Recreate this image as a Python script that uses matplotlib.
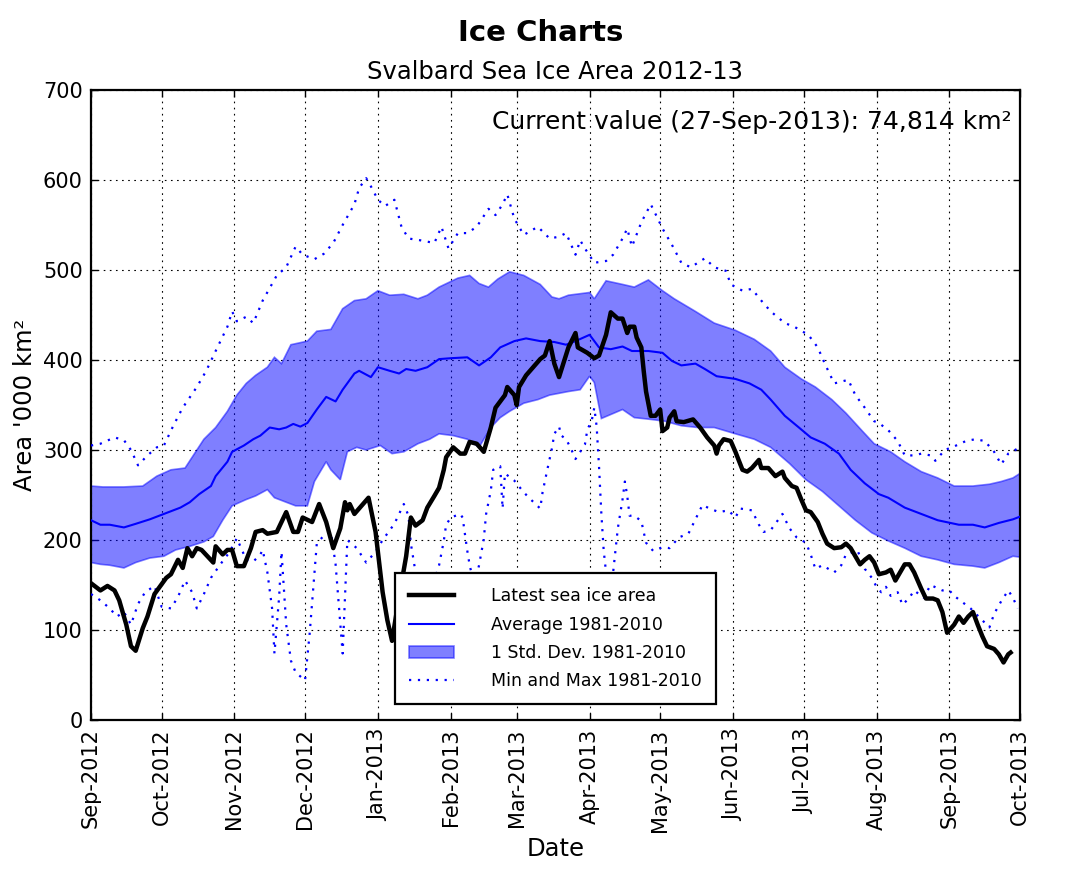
#!/usr/bin/env python3
"""
Svalbard sea ice area 2012-13 vs 1981-2010 climatology.
"""

import numpy as np
import matplotlib
matplotlib.use("Agg")
import matplotlib.pyplot as plt
import matplotlib.dates as mdates
from matplotlib.lines import Line2D
from matplotlib.patches import Patch

START = np.datetime64("2012-09-01")

# values in '000 km2, positions as days after START
latest_days = [0, 4, 7, 10, 12, 15, 17, 19, 22, 24, 27, 32, 34, 37, 39, 41, 43, 45, 47, 52,
               53, 56, 58, 60, 62, 65, 68, 70, 73, 75, 79, 83, 86, 88, 90, 94, 97, 100, 103, 106,
               108, 109, 110, 112, 118, 121, 124, 126, 128, 131, 134, 136, 138, 141, 143, 146, 148, 150, 151, 154,
               157, 159, 161, 164, 167, 170, 172, 174, 176, 177, 180, 181, 182, 185, 188, 191, 193, 195, 197, 199,
               203, 206, 207, 211, 214, 216, 219, 221, 224, 226, 228, 229, 231, 232, 234, 235, 236, 238, 240, 242,
               243, 245, 246, 248, 249, 252, 256, 259, 262, 265, 266, 267, 269, 272, 274, 277, 279, 281, 284, 285,
               288, 290, 291, 294, 295, 298, 300, 302, 304, 306, 309, 311, 313, 316, 319, 321, 323, 325, 327, 329,
               331, 333, 335, 338, 340, 342, 344, 346, 348, 350, 353, 355, 358, 360, 362, 364, 367, 369, 371, 373,
               375, 377, 379, 381, 384, 386, 388, 390, 391]
latest_vals = [152, 144, 149, 144, 133, 106, 82, 77, 102, 115, 140, 158, 162, 178, 169, 191, 182, 191, 189, 175,
               193, 184, 189, 189, 171, 171, 191, 209, 211, 207, 209, 231, 209, 209, 225, 220, 240, 220, 191, 213,
               242, 233, 240, 229, 247, 209, 142, 111, 88, 137, 182, 225, 216, 222, 236, 249, 258, 278, 292, 303,
               296, 296, 309, 307, 298, 325, 347, 354, 361, 370, 361, 350, 370, 383, 392, 401, 405, 421, 396, 381,
               414, 430, 414, 408, 402, 405, 428, 453, 446, 446, 430, 437, 437, 425, 414, 388, 365, 338, 338, 345,
               321, 325, 336, 343, 332, 331, 334, 325, 314, 305, 296, 305, 312, 310, 298, 278, 276, 280, 289, 280,
               280, 274, 271, 276, 269, 260, 258, 245, 233, 231, 220, 207, 196, 191, 192, 196, 191, 182, 173, 178,
               182, 175, 162, 164, 167, 155, 164, 173, 173, 164, 146, 135, 135, 133, 120, 97, 106, 115, 108, 115,
               120, 106, 93, 82, 79, 73, 64, 73, 75]

avg_days = [0, 4, 8, 14, 19, 25, 31, 38, 42, 46, 51, 53, 58, 60, 65, 69, 72, 76, 80, 83,
            86, 89, 92, 96, 100, 104, 107, 112, 114, 119, 122, 127, 131, 134, 138, 143, 148, 153, 160, 165,
            170, 174, 180, 185, 191, 197, 202, 206, 212, 216, 221, 226, 230, 237, 243, 247, 251, 257, 261, 266,
            274, 280, 285, 289, 295, 301, 306, 312, 318, 323, 329, 335, 339, 346, 353, 360, 369, 375, 380, 386,
            392, 395]
avg_vals = [222, 217, 217, 214, 218, 223, 229, 236, 242, 251, 260, 271, 287, 298, 305, 312, 316, 325, 323, 325,
            329, 326, 330, 345, 359, 354, 367, 385, 388, 381, 392, 388, 385, 390, 388, 392, 401, 402, 403, 394,
            403, 414, 421, 424, 421, 420, 417, 421, 428, 414, 412, 415, 410, 410, 408, 399, 394, 396, 390, 382,
            379, 374, 367, 356, 338, 325, 314, 307, 296, 278, 263, 251, 247, 236, 229, 222, 217, 217, 214, 219,
            223, 226]

upper_days = [0, 5, 14, 22, 28, 34, 40, 44, 48, 53, 58, 62, 66, 70, 75, 78, 81, 85, 92, 96,
              102, 107, 112, 117, 122, 127, 133, 139, 143, 148, 156, 161, 165, 169, 173, 178, 184, 191, 196, 199,
              203, 212, 214, 219, 226, 231, 237, 243, 248, 257, 265, 274, 282, 289, 295, 302, 308, 315, 321, 328,
              333, 340, 346, 353, 360, 367, 375, 382, 387, 392, 395]
upper_vals = [260, 259, 259, 260, 271, 278, 280, 296, 312, 325, 343, 361, 374, 383, 392, 403, 396, 417, 421, 432,
              434, 457, 466, 468, 477, 472, 473, 468, 472, 481, 491, 494, 485, 481, 490, 498, 494, 484, 470, 468,
              472, 475, 468, 488, 484, 481, 489, 477, 468, 454, 441, 433, 423, 410, 392, 379, 370, 356, 341, 321,
              307, 298, 287, 276, 269, 260, 260, 262, 265, 269, 274]

lower_days = [0, 4, 8, 14, 19, 25, 31, 36, 42, 48, 52, 56, 60, 66, 70, 75, 78, 83, 87, 92,
              95, 100, 102, 106, 109, 113, 117, 123, 128, 133, 139, 144, 148, 154, 160, 165, 170, 174, 178, 184,
              190, 195, 199, 203, 208, 212, 214, 217, 226, 231, 238, 244, 251, 258, 265, 274, 282, 289, 297, 304,
              311, 318, 325, 332, 339, 346, 353, 360, 367, 375, 380, 386, 392, 395]
lower_vals = [175, 173, 172, 169, 175, 180, 182, 189, 193, 198, 204, 222, 238, 245, 249, 256, 247, 242, 238, 238,
              265, 287, 278, 267, 298, 303, 300, 305, 296, 298, 307, 312, 318, 316, 312, 303, 325, 336, 343, 352,
              356, 361, 363, 365, 367, 382, 375, 335, 345, 336, 334, 332, 327, 325, 325, 318, 312, 303, 285, 267,
              254, 238, 222, 208, 199, 191, 182, 178, 173, 171, 169, 175, 182, 181]

max_days = [0, 4, 10, 14, 17, 20, 24, 28, 31, 35, 39, 45, 49, 53, 58, 60, 62, 66, 69, 73,
            79, 83, 87, 90, 95, 99, 103, 107, 112, 114, 117, 119, 122, 125, 129, 132, 135, 140, 146, 149,
            152, 156, 160, 164, 169, 172, 175, 177, 180, 184, 190, 195, 199, 202, 206, 208, 210, 214, 219, 222,
            226, 228, 230, 234, 238, 241, 243, 247, 251, 255, 261, 265, 270, 272, 277, 281, 285, 289, 295, 299,
            305, 309, 312, 316, 322, 325, 329, 333, 335, 339, 343, 346, 350, 353, 357, 359, 363, 367, 372, 376,
            380, 384, 387, 390, 395]
max_vals = [305, 307, 314, 311, 300, 283, 294, 303, 305, 327, 347, 370, 388, 410, 437, 454, 443, 448, 441, 466,
            494, 503, 526, 517, 512, 518, 530, 550, 573, 591, 602, 593, 578, 571, 578, 548, 535, 533, 530, 548,
            524, 541, 541, 548, 568, 561, 573, 584, 557, 539, 548, 535, 537, 541, 517, 533, 524, 508, 510, 517,
            535, 546, 526, 553, 573, 557, 546, 528, 508, 503, 513, 503, 499, 484, 477, 479, 466, 454, 441, 437,
            428, 414, 396, 374, 378, 361, 347, 332, 330, 322, 310, 294, 294, 296, 294, 288, 300, 304, 310, 312,
            310, 298, 284, 296, 303]

min_days = [0, 4, 8, 11, 14, 17, 20, 23, 27, 30, 34, 37, 40, 43, 45, 48, 51, 55, 59, 62,
            66, 69, 72, 73, 75, 77, 78, 80, 81, 83, 85, 87, 91, 93, 96, 99, 102, 104, 107, 109,
            113, 117, 121, 124, 129, 133, 135, 136, 138, 142, 148, 150, 151, 153, 157, 158, 160, 161, 163, 165,
            167, 168, 170, 171, 172, 174, 175, 176, 177, 180, 184, 187, 191, 192, 194, 196, 197, 199, 200, 202,
            204, 206, 208, 210, 211, 213, 214, 215, 216, 217, 218, 219, 220, 222, 223, 224, 226, 227, 228, 229,
            231, 234, 236, 239, 243, 246, 250, 254, 257, 260, 263, 267, 271, 274, 276, 281, 284, 286, 289, 294,
            297, 300, 304, 306, 308, 311, 316, 319, 321, 326, 329, 332, 334, 336, 338, 340, 343, 345, 348, 350,
            354, 357, 362, 365, 367, 370, 374, 377, 382, 384, 387, 390, 392, 394]
min_vals = [140, 133, 124, 115, 120, 106, 129, 142, 149, 126, 124, 137, 155, 142, 124, 140, 158, 173, 187, 202,
            178, 176, 184, 189, 164, 124, 74, 137, 187, 106, 66, 53, 44, 97, 196, 205, 209, 173, 74, 200,
            191, 175, 187, 200, 218, 240, 227, 196, 164, 120, 172, 199, 217, 225, 229, 225, 188, 172, 150, 172,
            201, 229, 255, 278, 280, 282, 235, 274, 272, 266, 253, 245, 235, 253, 278, 302, 318, 326, 316, 312,
            302, 290, 298, 306, 322, 334, 347, 326, 282, 229, 188, 164, 130, 164, 188, 213, 245, 265, 249, 227,
            227, 221, 197, 188, 192, 191, 203, 207, 223, 239, 235, 231, 233, 225, 235, 233, 217, 209, 211, 229,
            213, 203, 197, 184, 168, 172, 164, 172, 184, 188, 168, 158, 148, 142, 148, 138, 142, 128, 136, 144,
            136, 150, 144, 144, 138, 132, 124, 116, 103, 118, 132, 144, 136, 124]

y_ticks = [0, 100, 200, 300, 400, 500, 600, 700]


def to_num(days):
    return mdates.date2num(START + np.array(days).astype("timedelta64[D]"))


def main() -> None:
    plt.rcParams["font.family"] = "DejaVu Sans"
    fig = plt.figure(figsize=(10.82, 8.71), dpi=100)
    ax = fig.add_axes([0.0841, 0.1733, 0.8586, 0.7234])

    band_x = np.concatenate([to_num(upper_days), to_num(lower_days)[::-1]])
    band_y = np.concatenate([upper_vals, lower_vals[::-1]])
    ax.fill(band_x, band_y, facecolor="blue", edgecolor="blue", alpha=0.5, linewidth=1.2, zorder=2)

    dots = (0, (1, 3))
    ax.plot(to_num(max_days), max_vals, color="blue", linestyle=dots, linewidth=1.6, zorder=3)
    ax.plot(to_num(min_days), min_vals, color="blue", linestyle=dots, linewidth=1.6, zorder=3)
    ax.plot(to_num(avg_days), avg_vals, color="blue", linewidth=1.5, zorder=4)
    ax.plot(to_num(latest_days), latest_vals, color="black", linewidth=3.2, zorder=5)

    ax.xaxis.set_major_locator(mdates.MonthLocator())
    ax.xaxis.set_major_formatter(mdates.DateFormatter("%b-%Y"))
    ax.set_xlim(mdates.date2num(np.datetime64("2012-09-01")), mdates.date2num(np.datetime64("2013-10-01")))
    ax.set_ylim(0, 700)
    ax.set_yticks(y_ticks)
    for lab in ax.get_xticklabels():
        lab.set_rotation(90)

    ax.tick_params(direction="in", top=True, right=True, length=5, width=1, labelsize=15, pad=6)
    ax.grid(True, color="black", linestyle=(0, (1.5, 4)), linewidth=0.8)
    for sp in ax.spines.values():
        sp.set_linewidth(1.6)

    ax.set_xlabel("Date", fontsize=17.5)
    ax.set_ylabel("Area '000 km²", fontsize=17.5)
    ax.set_title("Svalbard Sea Ice Area 2012-13", fontsize=17.5, pad=8)
    fig.suptitle("Ice Charts", fontsize=21, fontweight="bold", y=0.962, va="center")

    ax.text(0.991, 0.949, "Current value (27-Sep-2013): 74,814 km²", transform=ax.transAxes,
            ha="right", va="center", fontsize=18)

    handles = [
        Line2D([], [], color="black", linewidth=3.2),
        Line2D([], [], color="blue", linewidth=1.5),
        Patch(facecolor="blue", edgecolor="blue", alpha=0.5, linewidth=1.2),
        Line2D([], [], color="blue", linestyle=dots, linewidth=1.6),
    ]
    labels = ["Latest sea ice area", "Average 1981-2010", "1 Std. Dev. 1981-2010", "Min and Max 1981-2010"]
    leg = ax.legend(handles, labels, loc="lower center", bbox_to_anchor=(0.5, 0.025), fontsize=12.5,
                    fancybox=False, framealpha=1, edgecolor="black", handlelength=2.6,
                    handletextpad=2.1, borderpad=0.8, labelspacing=0.6, borderaxespad=0)
    leg.get_frame().set_linewidth(1.6)
    leg.set_zorder(10)

    fig.savefig("out.png", dpi=100, facecolor="white")
    plt.close(fig)


if __name__ == "__main__":
    main()
